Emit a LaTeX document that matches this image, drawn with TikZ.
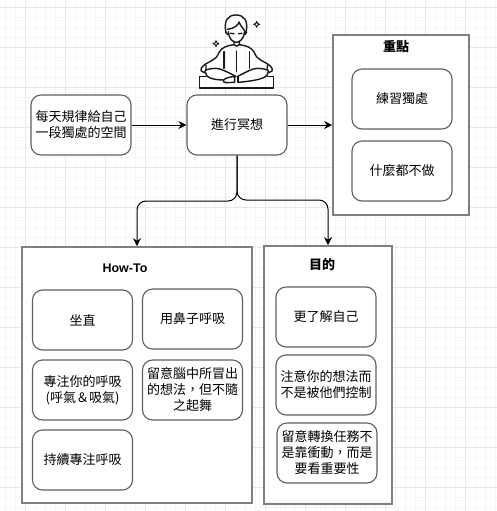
\documentclass[tikz,border=0pt]{standalone}
\usepackage{fontspec}
\setmainfont{Noto Sans CJK TC}
\newfontfamily\latinbold{Liberation Sans}
\usetikzlibrary{arrows.meta}
\definecolor{gridmajor}{RGB}{232,232,232}
\definecolor{gridminor}{RGB}{246,246,246}
\definecolor{boxgray}{RGB}{128,128,128}
\definecolor{cardgray}{RGB}{95,95,95}
\tikzset{
    panel/.style={draw=boxgray, line width=1.6pt, fill=white, inner sep=0pt},
    card/.style={draw=cardgray, line width=1.1pt, rounded corners=10pt, fill=white, inner sep=0pt,
                 minimum width=100pt, minimum height=60pt, align=center, font=\fontsize{13}{16}\selectfont},
    heading/.style={font=\fontsize{13}{16}\selectfont\bfseries},
    flow/.style={-{Stealth[length=8pt,width=8pt,inset=2.5pt]}, line width=1pt, black},
    figline/.style={line width=1.4pt, black!90, line join=round, line cap=round}
}
\begin{document}
\begin{tikzpicture}[x=1pt, y=-1pt]
    \useasboundingbox (0,0) rectangle (497,511);

    % Grid
    \foreach \i in {0,...,49} {
        \draw[gridminor, line width=0.6pt] (5+10*\i, 0) -- (5+10*\i, 511);
    }
    \foreach \j in {0,...,51} {
        \draw[gridminor, line width=0.6pt] (0, 7+10*\j) -- (497, 7+10*\j);
    }
    \foreach \i in {0,...,11} {
        \draw[gridmajor, line width=0.7pt] (25+40*\i, 0) -- (25+40*\i, 511);
    }
    \foreach \j in {0,...,12} {
        \draw[gridmajor, line width=0.7pt] (0, 7+40*\j) -- (497, 7+40*\j);
    }

    % Panels
    \node[panel, minimum width=136pt, minimum height=180pt] (focus) at (401, 125) {};
    \node[panel, minimum width=230pt, minimum height=256pt] (howto) at (137, 375) {};
    \node[panel, minimum width=128pt, minimum height=258pt] (purpose) at (328, 375) {};
    \node[heading] (focustitle) at (396, 47) {重點};
    \node[heading, font=\fontsize{12.5}{16}\selectfont\latinbold\bfseries] (howtotitle) at (125, 268) {How-To};
    \node[heading] (purposetitle) at (322, 265) {目的};

    % Cards
    \node[card] (habit) at (81, 125) {每天規律給自己\\一段獨處的空間};
    \node[card] (meditate) at (237, 125) {進行冥想};
    \foreach \n/\x/\y/\t in {alone/402/99/{練習獨處},
                             nothing/402/171/{什麼都不做},
                             sit/82.5/320/{坐直},
                             nose/192.5/319/{用鼻子呼吸},
                             breath/82.5/390/{專注你的呼吸\\(呼氣＆吸氣)},
                             notice/192.5/390/{留意腦中所冒出\\的想法，但不隨\\之起舞},
                             keep/82.5/460/{持續專注呼吸},
                             know/326/317/{更了解自己},
                             watch/326/385/{注意你的想法而\\不是被他們控制},
                             switch/327/453/{留意轉換任務不\\是靠衝動，而是\\要看重要性}} {
        \node[card] (\n) at (\x, \y) {\t};
    }

    % Arrows
    \coordinate (forkleft) at (237, 201);
    \coordinate (forkright) at (237, 200);
    \draw[flow] (habit) -- (meditate);
    \draw[flow] (meditate) -- (focus.west |- meditate);
    \draw[flow, rounded corners=9pt] (meditate.south) -- (forkleft) -| (howto.north);
    \draw[flow, rounded corners=9pt] (meditate.south) -- (forkright) -| (purpose.north);

    % Meditating figure
    \begin{scope}[shift={(170,0)}, x=0.3333pt, y=-0.3333pt, figline]
        % mat
        \draw (108,230) -- (89,230) -- (89,264) -- (311,264) -- (311,230) -- (293,230);
        % head and hair
        \draw (168,98) .. controls (160,60) and (175,45) .. (198,45)
              .. controls (222,45) and (236,62) .. (228,98);
        \draw (172,88) .. controls (195,85) and (205,75) .. (207,66)
              .. controls (212,80) and (222,85) .. (226,98);
        \draw (175,95) .. controls (176,115) and (188,127) .. (199,127)
              .. controls (210,127) and (222,115) .. (224,95);
        \draw (167,97) -- (173,103);
        \draw (230,97) -- (225,103);
        \draw (182,100) -- (192,101);
        \draw (206,101) -- (216,100);
        \draw (192,124) -- (192,134) .. controls (196,140) and (204,140) .. (208,134) -- (208,124);
        % shoulders and arms
        \draw (192,134) .. controls (170,137) and (155,142) .. (147,158)
              .. controls (142,170) and (135,178) .. (125,182)
              .. controls (110,190) and (100,195) .. (95,203)
              .. controls (90,210) and (95,218) .. (103,218)
              .. controls (108,212) and (110,205) .. (108,197);
        \draw (208,134) .. controls (230,137) and (245,142) .. (253,158)
              .. controls (258,170) and (265,178) .. (275,182)
              .. controls (290,190) and (300,195) .. (305,203)
              .. controls (310,210) and (305,218) .. (297,218)
              .. controls (292,212) and (290,205) .. (292,197);
        \draw (162,155) -- (162,205);
        \draw (238,155) -- (238,205);
        \draw (199,153) -- (199,215);
        % legs and feet
        \draw (108,210) .. controls (130,203) and (145,203) .. (165,213)
              .. controls (175,218) and (190,224) .. (198,230);
        \draw (292,210) .. controls (270,203) and (255,203) .. (235,213)
              .. controls (225,218) and (212,224) .. (202,230);
        \draw (107,218) .. controls (105,232) and (130,240) .. (160,240);
        \draw (293,218) .. controls (296,236) and (250,243) .. (205,247);
        \draw (160,240) .. controls (170,232) and (185,230) .. (194,230)
              -- (194,247) -- (168,248) .. controls (162,248) and (158,244) .. (160,240);
        \draw (204,230) -- (204,247);
        % sparkles
        \draw[line width=0.9pt] (260,64) .. controls (261,70) and (263,72) .. (269,73)
              .. controls (263,74) and (261,76) .. (260,82)
              .. controls (259,76) and (257,74) .. (251,73)
              .. controls (257,72) and (259,70) .. (260,64) -- cycle;
        \draw[line width=0.9pt] (138,122) .. controls (139,128) and (141,130) .. (147,131)
              .. controls (141,132) and (139,134) .. (138,140)
              .. controls (137,134) and (135,132) .. (129,131)
              .. controls (135,130) and (137,128) .. (138,122) -- cycle;
    \end{scope}
\end{tikzpicture}
\end{document}
